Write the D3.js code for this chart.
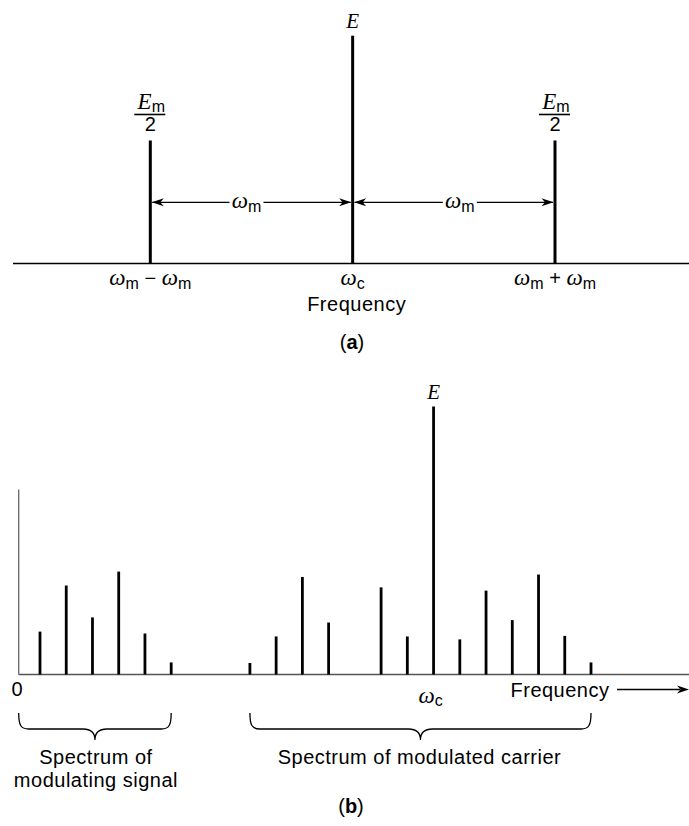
<!DOCTYPE html>
<html><head><meta charset="utf-8">
<script src="https://cdn.jsdelivr.net/npm/d3@7"></script>
<style>html,body{margin:0;padding:0;background:#fff;} svg{display:block;}</style>
</head><body>
<script>
// ---------- data ----------
// Panel (a): single-tone AM spectrum (offsets in units of ω_m from ω_c)
const topOffsets = [-1, 0, 1];
const topAmplitudes = [0.54, 1, 0.54];
const topTickLabels = ["ω_m − ω_m", "ω_c", "ω_m + ω_m"];
const spacingLabel = "ω_m";

// Panel (b): modulating signal and modulated carrier spectra (frequency in line-spacing units)
const signalFreqs = [1, 2, 3, 4, 5, 6];
const signalAmps  = [16.0, 33.2, 21.3, 38.4, 15.3, 4.5];
const carrierFreqs = [9, 10, 11, 12, 14, 15, 16, 17, 18, 19, 20, 21, 22];
const carrierAmps  = [4.3, 14.2, 36.4, 19.4, 32.5, 14.2, 100, 13.1, 31.3, 20.3, 37.3, 14.4, 4.5];
const carrierFreq = 16;
const braceLabels = [["Spectrum of", "modulating signal"], ["Spectrum of modulated carrier"]];

// ---------- setup ----------
const W = 689, H = 826;
const SANS = "'Liberation Sans', Arial, Helvetica, sans-serif";
const SERIF = "'Liberation Serif', 'Times New Roman', serif";
const FS = 20;
const svg = d3.select("body").append("svg").attr("width", W).attr("height", H);

function sansText(g, str, x, y, size, anchor) {
  return g.append("text").attr("x", x).attr("y", y)
    .attr("text-anchor", anchor || "middle")
    .attr("font-family", SANS).attr("font-size", size)
    .attr("letter-spacing", "0.5px").attr("fill", "#000").text(str);
}
// math text: ω and E italic serif, "_x" subscript sans
function mathText(g, str, x, y, opts) {
  opts = opts || {};
  const big = opts.big || 23, sub = opts.sub || 16, sans = opts.sans || FS, shift = opts.shift || 4;
  const t = g.append("text").attr("x", x).attr("y", y)
    .attr("text-anchor", opts.anchor || "middle").attr("fill", "#000");
  let i = 0, lowered = false;
  while (i < str.length) {
    const ch = str[i];
    if (ch === "_") {
      t.append("tspan").attr("font-family", SANS).attr("font-size", sub)
        .attr("dy", shift).text(str[i + 1]);
      lowered = true; i += 2; continue;
    }
    const sp = t.append("tspan");
    if (lowered) { sp.attr("dy", -shift); lowered = false; }
    if (ch === "ω" || ch === "E") {
      sp.attr("font-family", SERIF).attr("font-style", "italic").attr("font-size", big).text(ch);
    } else {
      sp.attr("font-family", SANS).attr("font-size", sans).text(ch === " " ? "\u00a0" : ch);
    }
    i++;
  }
  return t;
}
function arrowHead(g, x, y, dir) {
  g.append("path")
    .attr("d", `M0,0 L-12,-4 L-8.5,0 L-12,4 Z`)
    .attr("transform", `translate(${x},${y}) scale(${dir},1)`)
    .attr("fill", "#000");
}

// ---------- Panel (a) ----------
const xA = d3.scaleLinear().domain([-1, 1]).range([150.3, 555]);
const yA = d3.scaleLinear().domain([0, 1]).range([263.5, 35.7]);
const gA = svg.append("g");

gA.append("line").attr("x1", 13).attr("x2", W).attr("y1", yA(0)).attr("y2", yA(0))
  .attr("stroke", "#000").attr("stroke-width", 1.5);

gA.selectAll("line.bar").data(topOffsets).join("line").attr("class", "bar")
  .attr("x1", d => xA(d)).attr("x2", d => xA(d))
  .attr("y1", yA(0)).attr("y2", (d, i) => yA(topAmplitudes[i]))
  .attr("stroke", "#000").attr("stroke-width", 3);

// peak labels
topOffsets.forEach((d, i) => {
  const x = xA(d), top = yA(topAmplitudes[i]);
  if (d === 0) {
    mathText(gA, "E", x, top - 8, {big: 21});
  } else {
    mathText(gA, "E_m", x + 1, top - 31, {big: 23, sub: 16, shift: 3});
    gA.append("line").attr("x1", x - 16).attr("x2", x + 15)
      .attr("y1", top - 26).attr("y2", top - 26).attr("stroke", "#000").attr("stroke-width", 1.6);
    sansText(gA, "2", x, top - 9.5, FS).attr("letter-spacing", null);
  }
});

// tick labels
topOffsets.forEach((d, i) => {
  mathText(gA, topTickLabels[i], xA(d), 285, {shift: 4});
});
sansText(gA, "Frequency", xA(0) + 4, 310.5, FS);

// spacing arrows
const arrowY = 202.3;
[[-1, 0, -5], [0, 1, 6]].forEach(([a, b, off]) => {
  const x1 = xA(a), x2 = xA(b), xm = (x1 + x2) / 2 + off;
  gA.append("line").attr("x1", x1 + 2).attr("x2", xm - 17).attr("y1", arrowY).attr("y2", arrowY)
    .attr("stroke", "#000").attr("stroke-width", 1.3);
  gA.append("line").attr("x1", xm + 17).attr("x2", x2 - 2).attr("y1", arrowY).attr("y2", arrowY)
    .attr("stroke", "#000").attr("stroke-width", 1.3);
  arrowHead(gA, x1 + 1.5, arrowY, -1);
  arrowHead(gA, x2 - 1.5, arrowY, 1);
  mathText(gA, spacingLabel, xm, arrowY + 6, {shift: 4});
});

// caption (a)
const capA = gA.append("text").attr("x", 352).attr("y", 349).attr("text-anchor", "middle")
  .attr("font-family", SANS).attr("font-size", FS).attr("fill", "#000");
capA.append("tspan").text("(");
capA.append("tspan").attr("font-weight", "bold").text("a");
capA.append("tspan").text(")");

// ---------- Panel (b) ----------
const xB = d3.scaleLinear().domain([1, 22]).range([40, 591]);
const yB = d3.scaleLinear().domain([0, 100]).range([674.5, 406.5]);
const gB = svg.append("g");
const axisX0 = 18.7;

gB.append("line").attr("x1", axisX0).attr("x2", W).attr("y1", yB(0)).attr("y2", yB(0))
  .attr("stroke", "#555").attr("stroke-width", 1.5);
gB.append("line").attr("x1", axisX0).attr("x2", axisX0).attr("y1", 489.5).attr("y2", yB(0))
  .attr("stroke", "#666").attr("stroke-width", 1.3);

gB.selectAll("line.sig").data(signalFreqs).join("line").attr("class", "sig")
  .attr("x1", d => xB(d)).attr("x2", d => xB(d))
  .attr("y1", yB(0)).attr("y2", (d, i) => yB(signalAmps[i]))
  .attr("stroke", "#000").attr("stroke-width", 2.8);
gB.selectAll("line.car").data(carrierFreqs).join("line").attr("class", "car")
  .attr("x1", d => xB(d)).attr("x2", d => xB(d))
  .attr("y1", yB(0)).attr("y2", (d, i) => yB(carrierAmps[i]))
  .attr("stroke", "#000").attr("stroke-width", 2.8);

// labels
mathText(gB, "E", xB(carrierFreq), yB(100) - 8, {big: 21});
sansText(gB, "0", 17, 696, FS).attr("letter-spacing", null);
mathText(gB, "ω_c", xB(carrierFreq) - 3, 703, {shift: 3});
sansText(gB, "Frequency", 560, 697, FS);
gB.append("line").attr("x1", 617).attr("x2", 680).attr("y1", 689.5).attr("y2", 689.5)
  .attr("stroke", "#000").attr("stroke-width", 1.3);
arrowHead(gB, 689, 689.5, 1);

// braces
function brace(g, x1, x2) {
  const y0 = 713, y1 = 729, y2 = 740, xm = (x1 + x2) / 2;
  g.append("path")
    .attr("d", `M${x1},${y0} C${x1},${y1 - 4} ${x1 + 2},${y1} ${x1 + 10},${y1}
      L${xm - 12},${y1} C${xm - 4},${y1} ${xm},${y1 + 3} ${xm},${y2}
      C${xm},${y1 + 3} ${xm + 4},${y1} ${xm + 12},${y1}
      L${x2 - 10},${y1} C${x2 - 2},${y1} ${x2},${y1 - 4} ${x2},${y0}`)
    .attr("fill", "none").attr("stroke", "#000").attr("stroke-width", 1.3);
  return xm;
}
const bm1 = brace(gB, axisX0, xB(signalFreqs[signalFreqs.length - 1]));
const bm2 = brace(gB, xB(carrierFreqs[0]), xB(carrierFreqs[carrierFreqs.length - 1]));
braceLabels[0].forEach((s, i) => sansText(gB, s, bm1 + 1, 764 + i * 23, FS));
braceLabels[1].forEach((s, i) => sansText(gB, s, bm2 - 1, 764 + i * 23, FS));

const capB = gB.append("text").attr("x", 351).attr("y", 813).attr("text-anchor", "middle")
  .attr("font-family", SANS).attr("font-size", FS).attr("fill", "#000");
capB.append("tspan").text("(");
capB.append("tspan").attr("font-weight", "bold").text("b");
capB.append("tspan").text(")");
</script>
</body></html>
